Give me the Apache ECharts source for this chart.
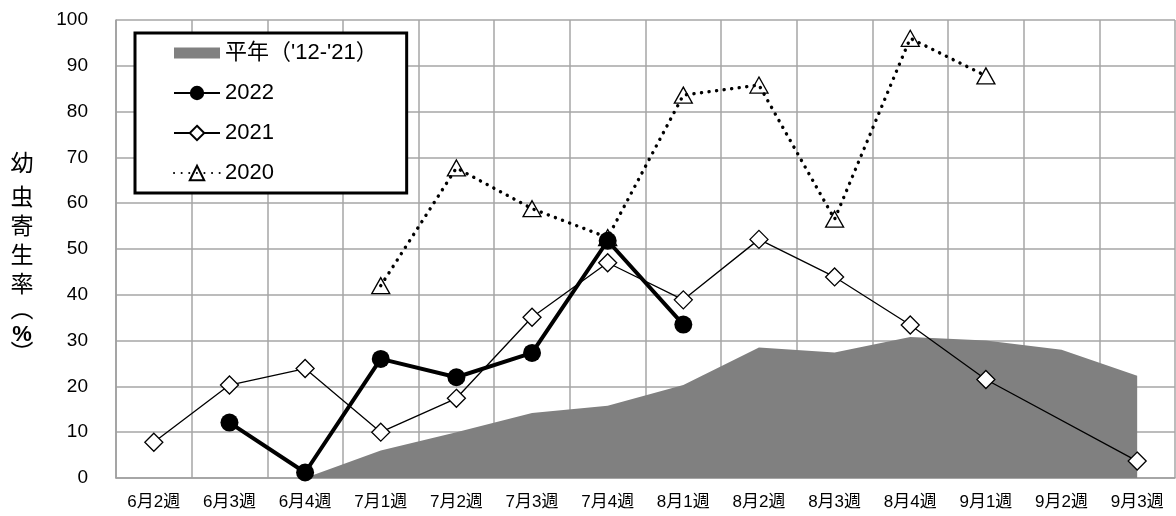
<!DOCTYPE html>
<html>
<head>
<meta charset="utf-8">
<script src="https://cdn.jsdelivr.net/npm/echarts@6/dist/echarts.min.js"></script>
<style>
html,body{margin:0;padding:0;background:#fff;}
#chart{width:1176px;height:516px;}
</style>
</head>
<body>
<div id="chart"></div>
<script>
const categories = ['6月2週','6月3週','6月4週','7月1週','7月2週','7月3週','7月4週','8月1週','8月2週','8月3週','8月4週','9月1週','9月2週','9月3週'];
const normalYear = [null, null, 0, 6, 10, 14.2, 15.8, 20.3, 28.5, 27.4, 30.8, 30, 28, 22.3];
const y2022 = [null, 12.1, 1.2, 26, 22, 27.3, 51.8, 33.5, null, null, null, null, null, null];
const y2021 = [7.8, 20.3, 23.9, 10, 17.4, 35.1, 47, 38.9, 52.1, 43.9, 33.4, 21.5, null, 3.7];
const y2020 = [null, null, null, 42, 67.7, 58.8, 52.5, 83.6, 85.8, 56.5, 96, 87.8, null, null];
const yTicks = [0, 10, 20, 30, 40, 50, 60, 70, 80, 90, 100];
const seriesNames = ["平年（'12-'21）", '2022', '2021', '2020'];
const yAxisTitle = ['幼','虫','寄','生','率','︵','%','︶'];

const FONT = "'Liberation Sans', Arial, 'Noto Sans CJK JP', sans-serif";
const chart = echarts.init(document.getElementById('chart'), null, {renderer: 'canvas'});

const titleY = [165, 199, 228, 257, 286, 311, 335, 355];
const titleGraphics = yAxisTitle.map((ch, i) => ({
  type: 'text',
  x: 22,
  y: titleY[i],
  style: {
    text: ch,
    font: (ch === '%' ? 'bold 22px ' : '23px ') + FONT,
    fill: '#000',
    textAlign: 'center',
    textVerticalAlign: 'middle'
  }
}));

const option = {
  animation: false,
  backgroundColor: '#fff',
  textStyle: {fontFamily: FONT},
  grid: {left: 116, right: 1, top: 20, bottom: 38, containLabel: false},
  graphic: titleGraphics,
  legend: {
    orient: 'vertical',
    left: 135,
    top: 33,
    padding: [9, 29, 9, 38],
    itemGap: 18,
    itemWidth: 46,
    itemHeight: 18,
    backgroundColor: '#fff',
    borderColor: '#000',
    borderWidth: 3,
    textStyle: {fontSize: 22, color: '#000', fontFamily: FONT},
    data: [
      {name: seriesNames[0], icon: 'path://M0,0H46V11H0Z'},
      {name: seriesNames[1]},
      {name: seriesNames[2]},
      {name: seriesNames[3]}
    ]
  },
  xAxis: {
    type: 'category',
    data: categories,
    boundaryGap: true,
    axisLine: {show: true, lineStyle: {color: '#9e9e9e', width: 1.5}},
    axisTick: {show: false},
    axisLabel: {color: '#000', fontSize: 17, margin: 16, fontFamily: FONT, interval: 0},
    splitLine: {show: true, interval: 0, lineStyle: {color: '#a6a6a6', width: 1.5}}
  },
  yAxis: {
    type: 'value',
    min: yTicks[0],
    max: yTicks[yTicks.length - 1],
    interval: 10,
    axisLine: {show: true, lineStyle: {color: '#9e9e9e', width: 1.5}},
    axisTick: {show: false},
    axisLabel: {color: '#000', fontSize: 19, margin: 28, fontFamily: FONT},
    splitLine: {show: true, lineStyle: {color: '#a6a6a6', width: 1.5}}
  },
  series: [
    {
      name: seriesNames[0],
      type: 'line',
      data: normalYear,
      symbol: 'none',
      lineStyle: {width: 0, color: '#808080'},
      itemStyle: {color: '#808080'},
      areaStyle: {color: '#808080', opacity: 1},
      z: 1
    },
    {
      name: seriesNames[3],
      type: 'line',
      data: y2020,
      symbol: 'triangle',
      symbolSize: [18, 16],
      connectNulls: true,
      lineStyle: {color: '#000', width: 3.4, type: [0.1, 7.5], cap: 'round'},
      itemStyle: {color: 'rgba(255,255,255,0)', borderColor: '#000', borderWidth: 1.3},
      z: 2
    },
    {
      name: seriesNames[2],
      type: 'line',
      data: y2021,
      symbol: 'diamond',
      symbolSize: [18, 18],
      connectNulls: true,
      lineStyle: {color: '#000', width: 1.3},
      itemStyle: {color: '#fff', borderColor: '#000', borderWidth: 1.3},
      z: 3
    },
    {
      name: seriesNames[1],
      type: 'line',
      data: y2022,
      symbol: 'circle',
      symbolSize: 18,
      connectNulls: false,
      lineStyle: {color: '#000', width: 4},
      itemStyle: {color: '#000', borderColor: '#000', borderWidth: 0},
      z: 4
    }
  ]
};
chart.setOption(option);
</script>
</body>
</html>
